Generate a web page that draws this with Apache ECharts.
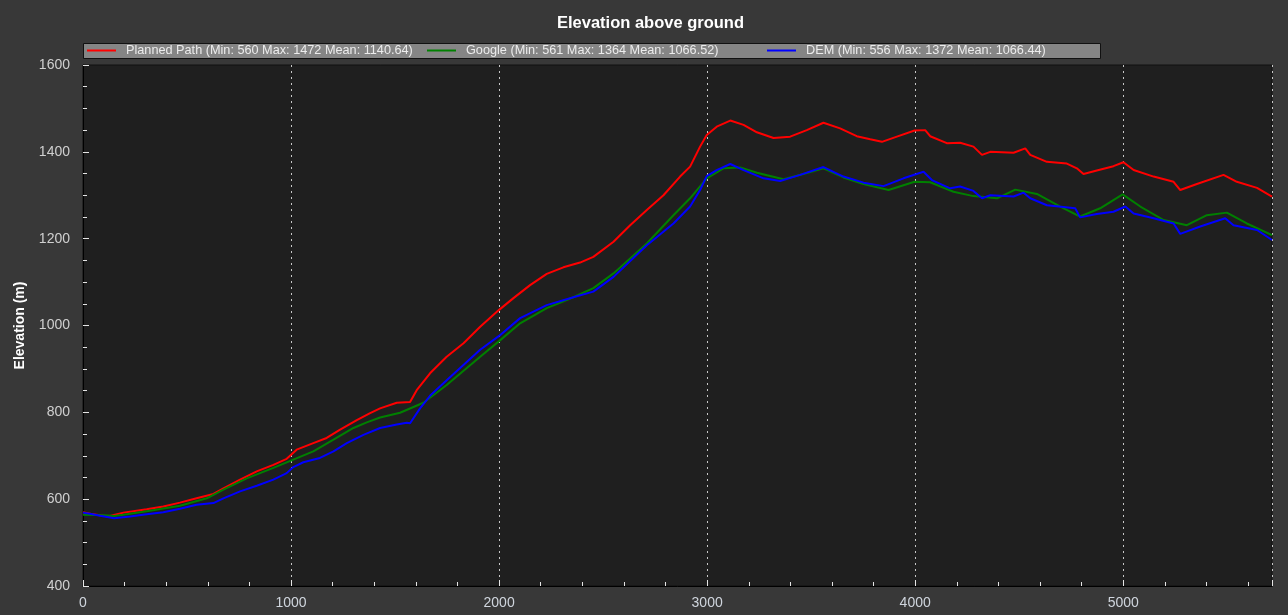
<!DOCTYPE html>
<html>
<head>
<meta charset="utf-8">
<title>Elevation above ground</title>
<script src="https://cdn.jsdelivr.net/npm/echarts@6/dist/echarts.min.js"></script>
<style>
  html, body { margin: 0; padding: 0; background: #383838; }
  #chart { width: 1288px; height: 615px; }
</style>
</head>
<body>
<div id="chart"></div>
<script>
// distance along the path (m) and elevation (m)
const plannedDist = [0, 40, 82, 120, 194, 306, 386, 466, 546, 627, 675, 755, 835, 915, 979, 1027, 1107, 1171, 1236, 1316, 1380, 1428, 1508, 1572, 1604, 1668, 1748, 1829, 1909, 2000, 2069, 2149, 2229, 2309, 2389, 2453, 2550, 2630, 2710, 2790, 2870, 2918, 2966, 2998, 3046, 3111, 3175, 3239, 3319, 3399, 3479, 3559, 3639, 3719, 3784, 3840, 3912, 3997, 4048, 4072, 4152, 4216, 4280, 4321, 4361, 4473, 4529, 4553, 4633, 4729, 4777, 4809, 4873, 4953, 5001, 5050, 5146, 5242, 5274, 5354, 5482, 5546, 5643, 5715];
const plannedElev = [570, 566, 563, 560, 569, 577, 583, 592, 602, 612, 625, 645, 664, 679, 693, 714, 729, 741, 760, 782, 798, 809, 822, 824, 851, 890, 928, 959, 997, 1036, 1063, 1093, 1119, 1134, 1145, 1158, 1193, 1231, 1266, 1300, 1343, 1366, 1412, 1439, 1458, 1472, 1462, 1445, 1432, 1435, 1450, 1467, 1454, 1436, 1429, 1423, 1435, 1449, 1450, 1436, 1420, 1421, 1412, 1393, 1400, 1398, 1408, 1393, 1377, 1373, 1362, 1349, 1357, 1367, 1376, 1358, 1343, 1331, 1312, 1326, 1347, 1331, 1317, 1297];

const googleDist = [0, 100, 150, 194, 306, 466, 595, 675, 787, 915, 1011, 1107, 1204, 1300, 1364, 1428, 1524, 1636, 1748, 1909, 2000, 2101, 2229, 2357, 2453, 2550, 2710, 2838, 2918, 2998, 3078, 3159, 3239, 3367, 3463, 3559, 3655, 3752, 3872, 3997, 4072, 4184, 4280, 4393, 4481, 4585, 4697, 4793, 4889, 4997, 5082, 5194, 5306, 5402, 5498, 5594, 5715];
const googleElev = [564, 563, 561, 564, 572, 585, 602, 622, 648, 672, 691, 710, 737, 764, 777, 788, 799, 822, 863, 928, 964, 1005, 1040, 1065, 1086, 1120, 1189, 1254, 1293, 1339, 1362, 1364, 1352, 1337, 1349, 1362, 1341, 1326, 1312, 1331, 1330, 1308, 1298, 1293, 1313, 1303, 1274, 1251, 1270, 1302, 1274, 1243, 1231, 1254, 1260, 1235, 1208];

const demDist = [0, 40, 82, 150, 226, 306, 386, 466, 546, 627, 675, 755, 835, 915, 979, 1011, 1059, 1139, 1204, 1268, 1348, 1428, 1508, 1556, 1572, 1620, 1668, 1748, 1909, 2000, 2101, 2229, 2357, 2453, 2550, 2710, 2838, 2918, 2966, 2998, 3046, 3111, 3175, 3271, 3351, 3447, 3559, 3655, 3752, 3848, 3944, 4040, 4080, 4168, 4216, 4280, 4321, 4361, 4473, 4521, 4553, 4633, 4769, 4793, 4873, 4953, 5010, 5050, 5146, 5242, 5274, 5370, 5490, 5530, 5643, 5715];
const demElev = [569, 566, 562, 556, 560, 565, 570, 578, 587, 591, 602, 618, 631, 645, 660, 674, 685, 695, 710, 729, 748, 764, 772, 776, 775, 809, 838, 874, 944, 976, 1017, 1047, 1065, 1078, 1112, 1185, 1235, 1274, 1312, 1344, 1358, 1372, 1358, 1339, 1333, 1347, 1365, 1343, 1329, 1321, 1339, 1354, 1335, 1316, 1320, 1310, 1293, 1300, 1297, 1306, 1293, 1277, 1270, 1249, 1257, 1262, 1274, 1258, 1247, 1235, 1211, 1228, 1247, 1231, 1220, 1197];

const seriesNames = [
  'Planned Path (Min: 560 Max: 1472 Mean: 1140.64)',
  'Google (Min: 561 Max: 1364 Mean: 1066.52)',
  'DEM (Min: 556 Max: 1372 Mean: 1066.44)'
];
const seriesColors = ['#ff0000', '#008000', '#0000ff'];

function pairs(xs, ys) {
  return xs.map((x, i) => [x, ys[i]]);
}

const chart = echarts.init(document.getElementById('chart'));
const fontFamily = '"Liberation Sans", Arial, sans-serif';

const legendStyle = (idx, left) => ({
  data: [{ name: seriesNames[idx], icon: 'rect' }],
  left: left,
  top: 44,
  padding: 0,
  itemWidth: 29,
  itemHeight: 2,
  selectedMode: false,
  textStyle: { color: '#ececec', fontSize: 12.7, fontFamily: fontFamily, padding: [0, 0, 0, 5] },
});

chart.setOption({
  animation: false,
  backgroundColor: '#383838',
  title: {
    text: 'Elevation above ground',
    left: 557,
    top: 15,
    padding: 0,
    textStyle: { color: '#ffffff', fontSize: 16.5, fontWeight: 'bold', fontFamily: fontFamily },
  },
  graphic: [
    {
      type: 'rect',
      z: 0,
      shape: { x: 83.5, y: 43.5, width: 1017, height: 15 },
      style: { fill: '#858585', stroke: '#111111', lineWidth: 1 },
    },
  ],
  legend: [legendStyle(0, 87), legendStyle(1, 427), legendStyle(2, 767)],
  grid: {
    left: 83,
    right: 16,
    top: 65,
    bottom: 29,
    show: true,
    backgroundColor: '#1f1f1f',
    borderColor: '#111111',
    borderWidth: 1,
  },
  xAxis: {
    type: 'value',
    min: 0,
    max: 5715,
    interval: 1000,
    axisLine: { show: true, lineStyle: { color: '#000000', width: 1 } },
    axisTick: { show: true, inside: true, length: 6, lineStyle: { color: '#e6e6e6' } },
    minorTick: { show: true, splitNumber: 5, length: 4, lineStyle: { color: '#e6e6e6' } },
    axisLabel: {
      color: '#d0d6de', fontSize: 14, fontFamily: fontFamily, margin: 10, showMaxLabel: false,
      formatter: (v) => String(v),
    },
    splitLine: { show: true, lineStyle: { color: '#c8c8c8', type: [2, 4], width: 1 } },
  },
  yAxis: {
    type: 'value',
    min: 400,
    max: 1600,
    interval: 200,
    name: 'Elevation (m)',
    nameLocation: 'middle',
    nameGap: 56,
    nameTextStyle: { color: '#ffffff', fontSize: 14, fontWeight: 'bold', fontFamily: fontFamily },
    axisLine: { show: true, lineStyle: { color: '#000000', width: 1 } },
    axisTick: { show: true, inside: true, length: 6, lineStyle: { color: '#e6e6e6' } },
    minorTick: { show: true, splitNumber: 4, length: 4, lineStyle: { color: '#e6e6e6' } },
    axisLabel: {
      color: '#d0d0d0', fontSize: 14, fontFamily: fontFamily, margin: 13,
      formatter: (v) => String(v),
    },
    splitLine: { show: false },
  },
  series: [
    { name: seriesNames[0], data: pairs(plannedDist, plannedElev) },
    { name: seriesNames[1], data: pairs(googleDist, googleElev) },
    { name: seriesNames[2], data: pairs(demDist, demElev) },
  ].map((s, i) => ({
    ...s,
    type: 'line',
    showSymbol: false,
    color: seriesColors[i],
    lineStyle: { color: seriesColors[i], width: 2 },
    z: 2 + (i === 1 ? 0 : i),
  })),
});
</script>
</body>
</html>
